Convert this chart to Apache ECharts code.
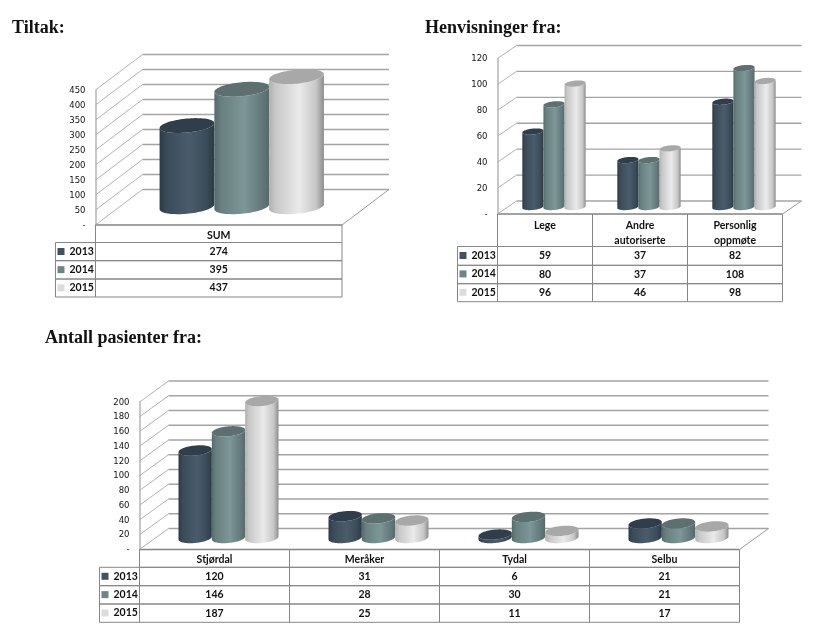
<!DOCTYPE html>
<html><head><meta charset="utf-8">
<style>html,body{margin:0;padding:0;background:#fff}#c{width:830px;height:644px}</style>
<script src="https://cdn.jsdelivr.net/npm/echarts@6/dist/echarts.min.js"></script>
</head><body><div id="c"></div>
<script>
const years = ['2013', '2014', '2015'];

const tiltakTitle = 'Tiltak:';
const tiltakCategories = ['SUM'];
const tiltak2013 = [274];
const tiltak2014 = [395];
const tiltak2015 = [437];

const henvisningerTitle = 'Henvisninger fra:';
const henvisningerCategories = ['Lege', 'Andre\nautoriserte', 'Personlig\noppmøte'];
const henvisninger2013 = [59, 37, 82];
const henvisninger2014 = [80, 37, 108];
const henvisninger2015 = [96, 46, 98];

const pasienterTitle = 'Antall pasienter fra:';
const pasienterCategories = ['Stjørdal', 'Meråker', 'Tydal', 'Selbu'];
const pasienter2013 = [120, 31, 6, 21];
const pasienter2014 = [146, 28, 30, 21];
const pasienter2015 = [187, 25, 11, 17];

const palette = [
  {swatch:'#43525f', cap:'#2f3e4a', stops:['#2b3945','#3a4a58','#4a5c6b','#3a4a58','#2c3a46']},
  {swatch:'#6f8486', cap:'#5d7070', stops:['#55696b','#68807f','#7d9698','#63797b','#566a6c']},
  {swatch:'#dcdcdc', cap:'#a8a8a8', stops:['#b0b0b0','#c8c8c8','#eaeaea','#c6c6c6','#8c8c8c']}
];
const stopAt = [0, 0.12, 0.55, 0.86, 1];

const charts = [
  {title:tiltakTitle, titlePos:[12,19], cats:tiltakCategories, vals:[tiltak2013,tiltak2014,tiltak2015],
   left:95.5, right:342, top:90, bottom:225, max:450, step:50, back:[47,-35.5], ry:7, tilt:2.5, baseDy:0.5,
   legendLeft:55.5, rows:[242.5,260.7,279,297], labelMargin:3},
  {title:henvisningerTitle, titlePos:[425,19], cats:henvisningerCategories, vals:[henvisninger2013,henvisninger2014,henvisninger2015],
   left:497.5, right:782.5, top:58.5, bottom:214, max:120, step:20, back:[19,-13], ry:3, tilt:1, baseDy:0.5,
   legendLeft:457.5, rows:[246.5,265.3,283.7,301.7], labelMargin:4},
  {title:pasienterTitle, titlePos:[45,329], cats:pasienterCategories, vals:[pasienter2013,pasienter2014,pasienter2015],
   left:139.5, right:739.5, top:402, bottom:549.5, max:200, step:20, back:[29,-21], ry:5, tilt:1.5, baseDy:0,
   legendLeft:99.5, rows:[567.3,585.7,604,622.3], labelMargin:3}
];

const option = {
  animation:false, backgroundColor:'#fff',
  title:[], grid:[], xAxis:[], yAxis:[], legend:[], series:[]
};

function ellipse(cx, cy, a, b, s, from, to, n) {
  const pts = [];
  for (let i = 0; i <= n; i++) {
    const t = from + (to - from) * i / n;
    pts.push([cx + a * Math.cos(t), cy + b * Math.sin(t) - s * Math.cos(t)]);
  }
  return pts;
}

charts.forEach((c, gi) => {
  option.title.push({text:c.title, left:c.titlePos[0], top:c.titlePos[1], padding:0,
    textStyle:{fontFamily:'Liberation Serif', fontWeight:'bold', fontSize:18, color:'#111'}});
  option.grid.push({left:c.left, width:c.right-c.left, top:c.top, height:c.bottom-c.top, containLabel:false});
  option.xAxis.push({gridIndex:gi, type:'category', data:c.cats, axisLine:{show:false}, axisTick:{show:false},
    axisLabel:{margin:c.labelMargin, interval:0, color:'#111', fontFamily:'Lato', fontWeight:'bold', fontSize:10.5, lineHeight:15}});
  option.yAxis.push({gridIndex:gi, type:'value', min:0, max:c.max, interval:c.step,
    axisLine:{show:true, lineStyle:{color:'#b4b4b4', width:1.5}}, axisTick:{show:false}, splitLine:{show:false},
    axisLabel:{margin:10, color:'#111', fontFamily:'DejaVu Sans', fontSize:8.5, verticalAlign:'top', lineHeight:1, formatter:v => v === 0 ? '-' : String(v)}});

  const rowH = (c.rows[3]-c.rows[0])/3;
  option.legend.push({orient:'vertical', left:c.legendLeft+2, top:c.rows[0]+3, padding:0, itemWidth:7, itemHeight:7,
    itemGap:rowH-12, icon:'rect', selectedMode:false, data:years,
    textStyle:{fontFamily:'Lato', fontWeight:'bold', fontSize:10.5, lineHeight:12, color:'#111'}});

  // walls and floor
  const ticks = [];
  for (let v = 0; v <= c.max; v += c.step) ticks.push([0, v]);
  const [dx, dy] = c.back;
  const line = (a,b,color,w) => ({type:'line', shape:{x1:a[0],y1:a[1],x2:b[0],y2:b[1]}, style:{stroke:color, lineWidth:w}});
  option.series.push({type:'custom', name:'walls', coordinateSystem:'cartesian2d', xAxisIndex:gi, yAxisIndex:gi, z:1, silent:true,
    data:ticks, encode:{x:0,y:1},
    renderItem:(p, api) => {
      const v = api.value(1);
      const y = api.coord([0, v])[1];
      const kids = [
        line([c.left,y],[c.left+dx,y+dy],'#b2b2b2',1),
        line([c.left+dx,y+dy],[c.right+dx,y+dy],'#a4a4a4',1.4)
      ];
      if (v === 0) {
        kids.push(line([c.right,y],[c.right+dx,y+dy],'#9a9a9a',1));
        kids.push(line([c.left,y],[c.right,y],'#bcbcbc',2));
      }
      return {type:'group', children:kids};
    }});

  // cylinders
  years.forEach((yr, si) => {
    const pal = palette[si];
    option.series.push({type:'custom', name:yr, coordinateSystem:'cartesian2d', xAxisIndex:gi, yAxisIndex:gi, z:2, silent:true,
      itemStyle:{color:pal.swatch},
      data:c.vals[si].map((v,i) => [i,v]), encode:{x:0,y:1},
      renderItem:(p, api) => {
        const cat = api.value(0), v = api.value(1);
        const top = api.coord([cat, v]), base = api.coord([cat, 0]);
        const w = api.size([1,0])[0] / 4.5;
        const cx = top[0] + (si-1)*w + dx/2 - 0.5;
        const yt = top[1] + dy/2 + c.baseDy;
        const yb = base[1] + dy/2 + c.baseDy - 1;
        const a = w/2;
        const body = ellipse(cx, yb, a, c.ry, c.tilt, Math.PI, 0, 40)
          .concat(ellipse(cx, yt, a, c.ry, c.tilt, 0, Math.PI, 40));
        const cap = ellipse(cx, yt, a, c.ry, c.tilt, 0, 2*Math.PI, 80);
        return {type:'group', children:[
          {type:'polygon', shape:{points:body}, style:{fill:{type:'linear',x:0,y:0,x2:1,y2:0,
            colorStops:pal.stops.map((col,k)=>({offset:stopAt[k],color:col}))}}},
          {type:'polygon', shape:{points:cap}, style:{fill:pal.cap}}
        ]};
      }});
  });

  // data table
  const cells = [];
  c.cats.forEach((_, i) => years.forEach((_, r) => cells.push([i, 0, r, c.vals[r][i]])));
  const border = {fill:'none', stroke:'#868686', lineWidth:1};
  option.series.push({type:'custom', name:'table', coordinateSystem:'cartesian2d', xAxisIndex:gi, yAxisIndex:gi, z:3, silent:true,
    data:cells, encode:{x:0,y:1},
    renderItem:(p, api) => {
      const i = api.value(0), r = api.value(2), val = api.value(3);
      const x = api.coord([i, 0])[0], bw = api.size([1,0])[0];
      const y0 = c.rows[r], y1 = c.rows[r+1];
      const kids = [
        {type:'rect', shape:{x:x-bw/2,y:y0,width:bw,height:y1-y0}, style:border},
        {type:'text', style:{text:String(val), x:x, y:(y0+y1)/2, align:'center', verticalAlign:'middle',
          fill:'#111', font:'bold 10.5px Lato'}}
      ];
      if (r === 0) kids.push({type:'rect', shape:{x:x-bw/2,y:c.bottom,width:bw,height:y0-c.bottom}, style:border});
      if (i === 0) kids.push({type:'rect', shape:{x:c.legendLeft,y:y0,width:c.left-c.legendLeft,height:y1-y0}, style:border});
      return {type:'group', children:kids};
    }});
});

echarts.init(document.getElementById('c'), null, {renderer:'canvas'}).setOption(option);
</script></body></html>
